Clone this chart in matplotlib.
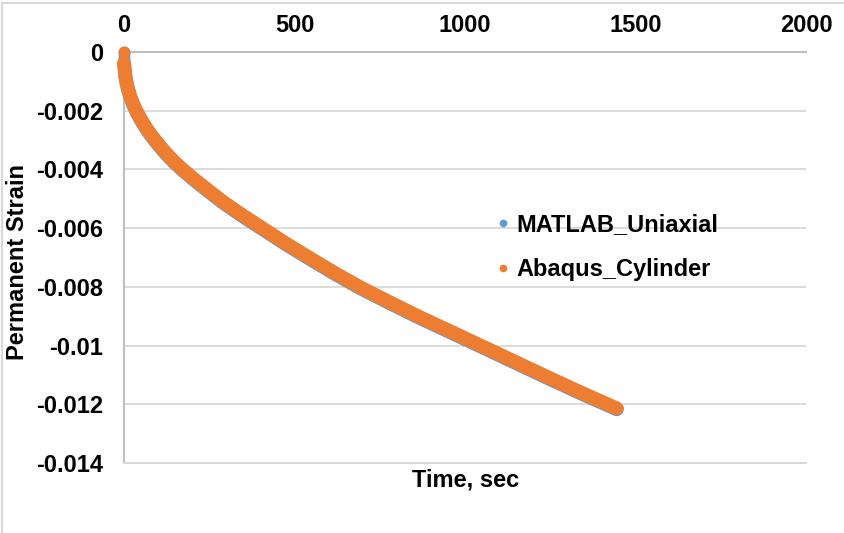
import matplotlib
matplotlib.use("Agg")
import matplotlib.pyplot as plt
from matplotlib.lines import Line2D

# Permanent strain vs. time for the two models
matlab_time = [0, 0, 0, 0, 0, 1, 3, 5, 8, 12, 19, 27, 36, 48, 62, 78, 96, 120, 145,
               172, 210, 250, 290, 350, 419, 480, 548, 620, 692, 780, 869, 965,
               1064, 1150, 1236, 1340, 1445]
matlab_strain = [0, -0.0001, -0.0002, -0.0003, -0.00041, -0.00049, -0.00074,
                 -0.00091, -0.0011, -0.00129, -0.00156, -0.0018, -0.00203,
                 -0.00229, -0.00256, -0.00283, -0.0031, -0.00343, -0.00374,
                 -0.00403, -0.0044, -0.00477, -0.00513, -0.00561, -0.00613,
                 -0.00659, -0.00707, -0.00757, -0.00804, -0.00856, -0.00907,
                 -0.00959, -0.01013, -0.0106, -0.01107, -0.01163, -0.01217]

abaqus_time = [0, 0, 1, 3, 5, 8, 12, 19, 27, 36, 48, 62, 78, 96, 120, 145,
               172, 210, 250, 290, 350, 419, 480, 548, 620, 692, 780, 869, 965,
               1064, 1150, 1236, 1340, 1445]
abaqus_strain = [0, -0.00038, -0.00046, -0.00071, -0.00088, -0.00107, -0.00126,
                 -0.00153, -0.00177, -0.0020, -0.00226, -0.00253, -0.0028,
                 -0.00307, -0.0034, -0.00371, -0.0040, -0.00437, -0.00474,
                 -0.0051, -0.00558, -0.0061, -0.00656, -0.00704, -0.00754,
                 -0.00801, -0.00853, -0.00904, -0.00956, -0.0101, -0.01057,
                 -0.01104, -0.0116, -0.01214]

x_ticks = [0, 500, 1000, 1500, 2000]
y_ticks = [0, -0.002, -0.004, -0.006, -0.008, -0.01, -0.012, -0.014]
y_tick_labels = ["0", "-0.002", "-0.004", "-0.006", "-0.008", "-0.01", "-0.012", "-0.014"]

BLUE = "#5B9BD5"
ORANGE = "#ED7D31"
GRID = "#D9D9D9"
AXIS = "#BFBFBF"
FS = 17

plt.rcParams["font.family"] = ["Liberation Sans", "DejaVu Sans"]
plt.rcParams["font.weight"] = "bold"

fig = plt.figure(figsize=(8.45, 5.33), dpi=100)
ax = fig.add_axes([124 / 845, 1 - 463 / 533, (806 - 124) / 845, (463 - 52) / 533])

lw = 10.0
ms = 8.5
# MATLAB series (drawn underneath)
ax.plot(matlab_time[4:], matlab_strain[4:], color=BLUE, lw=lw, solid_capstyle="round",
        solid_joinstyle="round", zorder=3, clip_on=False)
ax.plot(matlab_time, matlab_strain, "o", color=BLUE, ms=ms, mew=0, zorder=3, clip_on=False)
# Abaqus series on top
ax.plot(abaqus_time[1:], abaqus_strain[1:], color=ORANGE, lw=lw, solid_capstyle="round",
        solid_joinstyle="round", zorder=4, clip_on=False)
ax.plot(abaqus_time, abaqus_strain, "o", color=ORANGE, ms=ms, mew=0, zorder=4, clip_on=False)

ax.set_xlim(0, 2000)
ax.set_ylim(-0.014, 0)
ax.set_xticks(x_ticks)
ax.set_yticks(y_ticks)
ax.set_yticklabels(y_tick_labels)
ax.xaxis.tick_top()
ax.tick_params(axis="x", length=0, pad=11, labelsize=FS)
ax.tick_params(axis="y", length=0, pad=15, labelsize=FS)
ax.grid(axis="y", color=GRID, lw=1.3, zorder=0)
ax.set_axisbelow(True)

ax.spines["right"].set_visible(False)
ax.spines["left"].set_color(AXIS)
ax.spines["left"].set_linewidth(1.5)
ax.spines["top"].set_color(AXIS)
ax.spines["top"].set_linewidth(1.5)
ax.spines["bottom"].set_color(GRID)
ax.spines["bottom"].set_linewidth(1.5)

fig.text(466 / 845, 1 - 480 / 533, "Time, sec", ha="center", va="center",
         fontsize=FS, fontweight="bold")
fig.text(18 / 845, 1 - 262 / 533, "Permanent Strain", ha="center", va="center",
         rotation=90, fontsize=FS, fontweight="bold")

handles = [
    Line2D([], [], ls="none", marker="o", color=BLUE, ms=5.5, mew=0),
    Line2D([], [], ls="none", marker="o", color=ORANGE, ms=5.5, mew=0),
]
ax.legend(handles, ["MATLAB_Uniaxial", "Abaqus_Cylinder"], loc="upper left",
          bbox_to_anchor=((496 - 124) / 682, 1 - (213 - 52) / 411), frameon=False,
          fontsize=FS, handlelength=0.6, handletextpad=0.25, labelspacing=0.95,
          borderpad=0, borderaxespad=0)

# Chart-area border (top and left edges)
fig.add_artist(Line2D([2.5 / 845, 1], [1 - 2.5 / 533, 1 - 2.5 / 533],
                      transform=fig.transFigure, color=GRID, lw=1.5))
fig.add_artist(Line2D([2.5 / 845, 2.5 / 845], [0, 1 - 2.5 / 533],
                      transform=fig.transFigure, color=GRID, lw=1.5))

fig.savefig("out.png", dpi=100, facecolor="white")
